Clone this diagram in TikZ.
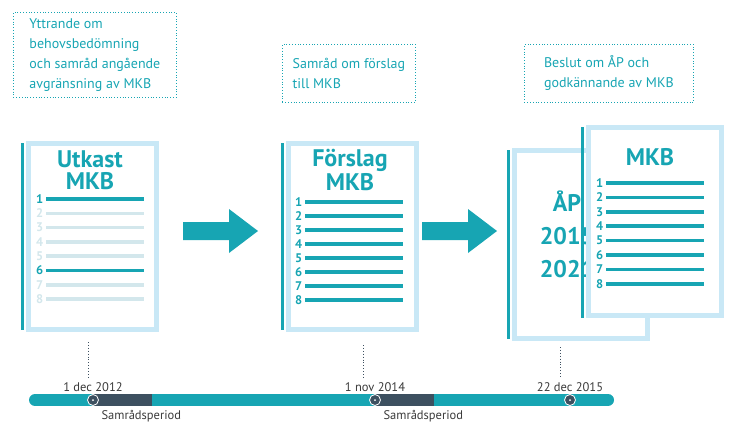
\documentclass[tikz,border=0pt]{standalone}
\usepackage{fontspec}
\setmainfont{PT Sans}
\definecolor{teal}{HTML}{17A5B3}
\definecolor{paleblue}{HTML}{C9E8F6}
\definecolor{paleline}{HTML}{D3E7EC}
\definecolor{slate}{HTML}{3D5060}
\definecolor{txtgray}{HTML}{3A3A3A}
\tikzstyle{note}=[draw=teal, dotted, line width=0.8pt, align=left, text=teal, font=\fontsize{14}{20}\selectfont, inner sep=6pt, anchor=north west]
\tikzstyle{page}=[draw=paleblue, fill=white, line width=5pt, anchor=north west]
\tikzstyle{stop}=[circle, draw=white, fill=slate, line width=0.8pt, minimum size=11pt, inner sep=0pt]
\tikzstyle{date}=[text=txtgray, font=\fontsize{12.5}{13}\selectfont]
\newcommand{\page}{\node[page]}
\newcommand{\bigarrow}[1]{% tail coordinate
  \fill[teal] (#1) ++(0,-9) -- ++(46,0) -- ++(0,-13) -- ++(29,22)
    -- ++(-29,22) -- ++(0,-13) -- ++(-46,0) -- cycle;}
\newcommand{\numlines}[4]{% x, top y, step, colour list
  \foreach \n/\c [count=\k from 0] in {#4}
    \draw[\c, line width=3.5pt] (#1+8,#2+\k*#3) -- (#1+106,#2+\k*#3)
      node[pos=0, left=1pt, inner sep=0pt, text=\c, font=\bfseries\fontsize{12.5}{12}\selectfont] {\n};}

\begin{document}
\begin{tikzpicture}[x=1pt, y=-1pt]
\useasboundingbox (0,0) rectangle (736,437);
% notes
\node[note, minimum width=163pt] (n1) at (13,12) {Yttrande om\\behovsbedömning\\och samråd angående\\avgränsning av MKB};
\node[note, minimum width=133pt, minimum height=58pt] (n2) at (282,44) {Samråd om förslag\\till MKB};
\node[note, minimum width=169pt, minimum height=58pt] (n3) at (524,44) {Beslut om ÅP och\\godkännande av MKB};

% document 1
\draw[teal, line width=3pt] (22,143) -- (22,330);
\page[minimum width=128pt, minimum height=186pt] (d1) at (26,141) {};
\node[text=teal, font=\bfseries\fontsize{24}{22}\selectfont, align=center] (t1) at (90,170) {Utkast\\MKB};
\numlines{38}{199}{14.3}{1/teal,2/paleline,3/paleline,4/paleline,5/paleline,6/teal,7/paleline,8/paleline}

% document 2
\draw[teal, line width=3pt] (282,143) -- (282,330);
\page[minimum width=128pt, minimum height=186pt] (d2) at (286,141) {};
\node[text=teal, font=\bfseries\fontsize{24}{22}\selectfont, align=center] (t2) at (350,170) {Förslag\\MKB};
\numlines{297}{202}{14}{1/teal,2/teal,3/teal,4/teal,5/teal,6/teal,7/teal,8/teal}

% documents 3 and 4
\draw[teal, line width=3pt] (508,150) -- (508,339);
\page[minimum width=133pt, minimum height=188pt] (d3) at (512,148) {};
\node[text=teal, font=\bfseries\fontsize{24}{33}\selectfont, align=center] (t3) at (567,234) {ÅP\\2015\\2021};
\draw[teal, line width=3pt] (582,127) -- (582,318);
\page[minimum width=133pt, minimum height=188pt] (d4) at (586,125) {};
\node[text=teal, font=\bfseries\fontsize{24}{22}\selectfont] (t4) at (650,157) {MKB};
\numlines{598}{183}{14.4}{1/teal,2/teal,3/teal,4/teal,5/teal,6/teal,7/teal,8/teal}

% arrows
\coordinate (a1) at (183,231);
\coordinate (a2) at (422,231);
\bigarrow{a1}
\bigarrow{a2}

% timeline
\draw[teal, line width=12pt, line cap=round] (35,400) -- (608,400);
\draw[slate, line width=12pt] (93,400) -- (152,400);
\draw[slate, line width=12pt] (375,400) -- (434,400);
\node[stop] (s1) at (93,400) {};
\node[stop] (s2) at (375,400) {};
\node[stop] (s3) at (570,400) {};
\foreach \s in {s1,s2,s3} \fill[white] (\s) circle (1pt);
\node[date, above=5pt] (l1) at (s1) {1 dec 2012};
\node[date, above=5pt] (l2) at (s2) {1 nov 2014};
\node[date, above=5pt] (l3) at (s3) {22 dec 2015};
\node[date, anchor=north west] (p1) at (98,407) {Samrådsperiod};
\node[date, anchor=north west] (p2) at (380,407) {Samrådsperiod};
\coordinate (v1) at (88,342);
\coordinate (v2) at (363,345);
\coordinate (v3) at (560,347);
\draw[slate, dotted, line width=0.9pt] (v1) -- (l1.north -| v1);
\draw[slate, dotted, line width=0.9pt] (v2) -- (l2.north -| v2);
\draw[slate, dotted, line width=0.9pt] (v3) -- (l3.north -| v3);
\end{tikzpicture}
\end{document}
